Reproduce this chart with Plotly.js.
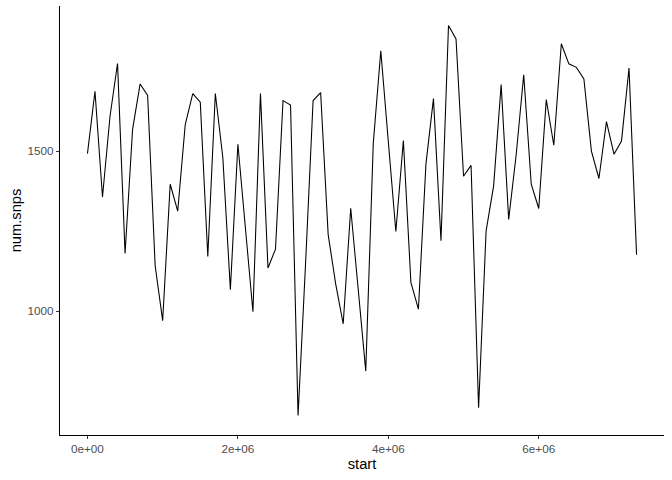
<!DOCTYPE html>
<html>
<head>
<meta charset="utf-8">
<script src="https://cdn.plot.ly/plotly-3.0.1.min.js"></script>
<style>html,body{margin:0;padding:0;background:#fff;}#chart{width:672px;height:480px;}</style>
</head>
<body>
<div id="chart"></div>
<script>
const start = [0,100000,200000,300000,400000,500000,600000,700000,800000,900000,
1000000,1100000,1200000,1300000,1400000,1500000,1600000,1700000,1800000,1900000,
2000000,2100000,2200000,2300000,2400000,2500000,2600000,2700000,2800000,2900000,
3000000,3100000,3200000,3300000,3400000,3500000,3600000,3700000,3800000,3900000,
4000000,4100000,4200000,4300000,4400000,4500000,4600000,4700000,4800000,4900000,
5000000,5100000,5200000,5300000,5400000,5500000,5600000,5700000,5800000,5900000,
6000000,6100000,6200000,6300000,6400000,6500000,6600000,6700000,6800000,6900000,
7000000,7100000,7200000,7300000];
const numSnps = [1493,1688,1357,1610,1775,1180,1569,1711,1675,1142,
970,1397,1313,1584,1681,1654,1171,1681,1480,1067,
1522,1267,998,1681,1135,1194,1659,1645,673,1150,
1659,1684,1240,1085,960,1322,1060,812,1525,1815,
1530,1249,1534,1090,1006,1460,1665,1220,1894,1852,
1422,1456,697,1251,1392,1709,1287,1490,1740,1397,
1321,1662,1519,1837,1774,1763,1727,1501,1415,1593,
1491,1532,1761,1176];
const xTickVals = [0,2000000,4000000,6000000];
const xTickText = ["0e+00","2e+06","4e+06","6e+06"];
const yTickVals = [1000,1500];
const yTickText = ["1000","1500"];

const font = "Liberation Sans, Arial, sans-serif";
const trace = {x:start, y:numSnps, type:'scatter', mode:'lines',
  line:{color:'#000000', width:1.07}, hoverinfo:'skip'};
const xmin = Math.min(...start), xmax = Math.max(...start);
const ymin = Math.min(...numSnps), ymax = Math.max(...numSnps);
const xpad = (xmax-xmin)*0.05, ypad = (ymax-ymin)*0.05;
const layout = {
  width:672, height:480,
  margin:{l:60, r:8, t:6, b:45},
  paper_bgcolor:'#ffffff', plot_bgcolor:'#ffffff',
  showlegend:false,
  font:{family:font},
  xaxis:{range:[xmin-xpad, xmax+xpad], tickvals:xTickVals, ticktext:xTickText,
    showgrid:false, zeroline:false, showline:true, linecolor:'#000000', linewidth:1.07,
    ticks:'outside', ticklen:3, tickcolor:'#333333', tickwidth:1.07,
    tickfont:{family:font, size:11.7, color:'#4D4D4D'},
    title:{text:'start', font:{family:font, size:14.7, color:'#000000'}, standoff:4}},
  yaxis:{range:[ymin-ypad, ymax+ypad], tickvals:yTickVals, ticktext:yTickText,
    showgrid:false, zeroline:false, showline:true, linecolor:'#000000', linewidth:1.07,
    ticks:'outside', ticklen:3, tickcolor:'#333333', tickwidth:1.07,
    tickfont:{family:font, size:11.7, color:'#4D4D4D'},
    title:{text:'num.snps', font:{family:font, size:14.7, color:'#000000'}, standoff:2}}
};
Plotly.newPlot('chart', [trace], layout, {displayModeBar:false, staticPlot:true});
</script>
</body>
</html>
